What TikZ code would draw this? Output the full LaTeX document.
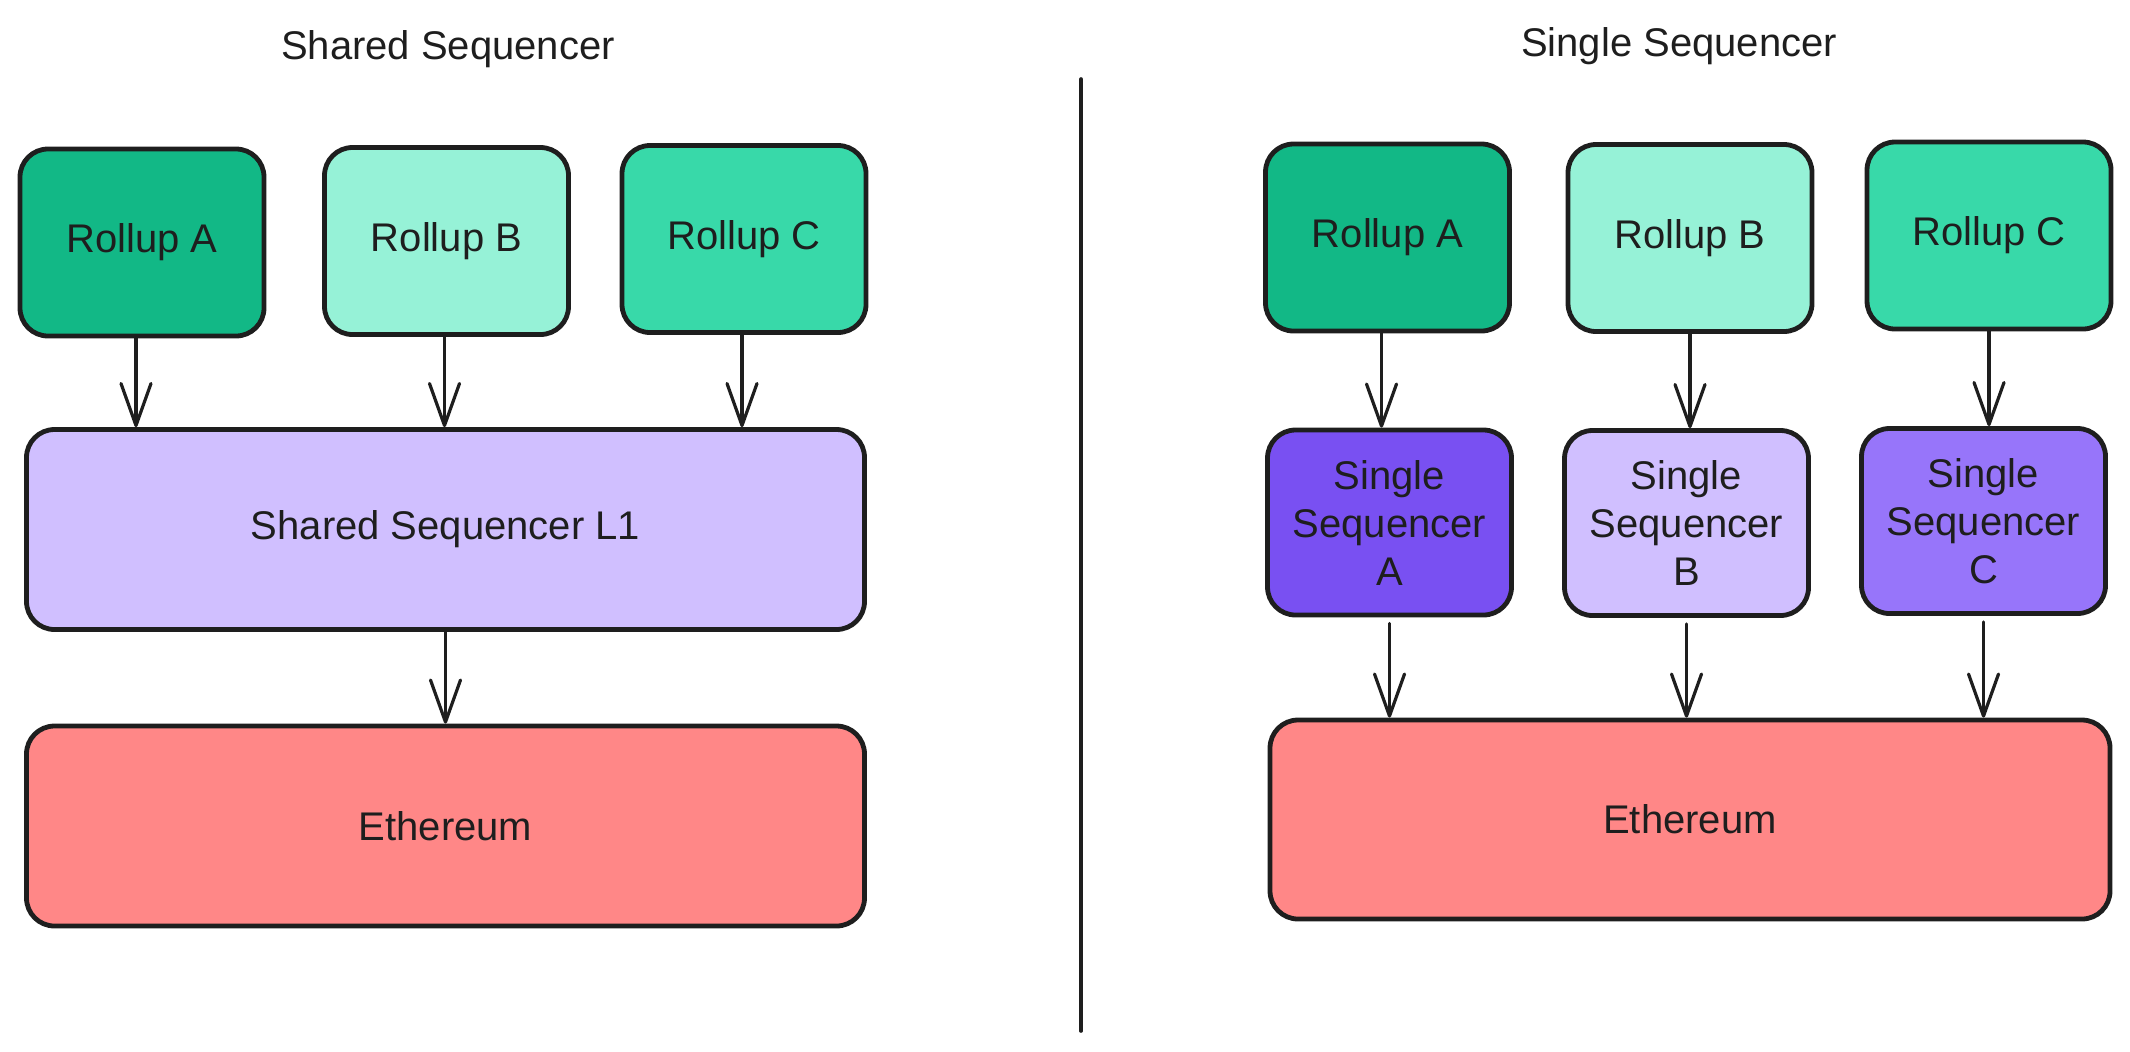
\documentclass[tikz,border=0pt]{standalone}
\usepackage{fontspec}
\setmainfont{Liberation Sans}
\usetikzlibrary{arrows.meta}
\definecolor{ink}{HTML}{1E1E1E}
\definecolor{tealA}{HTML}{12B886}
\definecolor{tealB}{HTML}{96F2D7}
\definecolor{tealC}{HTML}{38D9A9}
\definecolor{violetL}{HTML}{D0BFFF}
\definecolor{violetD}{HTML}{7950F2}
\definecolor{violetM}{HTML}{9775FA}
\definecolor{redL}{HTML}{FF8787}
\begin{document}
\begin{tikzpicture}[x=0.5pt,y=-0.5pt,
  box/.style={draw=ink, line width=2.4pt, rounded corners=14pt, inner sep=0pt,
              align=center, font=\fontsize{20}{24}\selectfont, text=ink},
  small/.style={box, minimum width=122pt, minimum height=93.5pt},
  wide/.style={box, minimum width=419pt, minimum height=100pt},
  arr/.style={draw=ink, line width=1.6pt, line cap=round,
              -{Straight Barb[length=21pt,width=15pt,round]}},
  title/.style={font=\fontsize{20}{24}\selectfont, text=ink},
  divider/.style={draw=ink, line width=1.8pt, line cap=round}]
\useasboundingbox (0,0) rectangle (2130,1051);

% titles
\node[title] (t1) at (448,49) {Shared Sequencer};
\node[title] (t2) at (1679,46) {Single Sequencer};

% divider
\coordinate (dt) at (1081,79);
\coordinate (db) at (1081,1031);
\draw[divider] (dt) -- (db);

% left side
\node[small, fill=tealA] (LA) at (142,242.5) {Rollup A};
\node[small, fill=tealB] (LB) at (446.5,241) {Rollup B};
\node[small, fill=tealC] (LC) at (744,239) {Rollup C};
\node[wide, fill=violetL] (L1) at (445.5,529.5) {Shared Sequencer L1};
\node[wide, fill=redL] (EL) at (445.5,826) {Ethereum};

\draw[arr] ([xshift=-3pt]LA.south) -- ([xshift=-3pt]LA.south |- L1.north);
\draw[arr] ([xshift=-1pt]LB.south) -- ([xshift=-1pt]LB.south |- L1.north);
\draw[arr] ([xshift=-1pt]LC.south) -- ([xshift=-1pt]LC.south |- L1.north);
\draw[arr] (L1.south) -- (L1.south |- EL.north);

% right side
\node[small, fill=tealA] (RA) at (1387.5,237.5) {Rollup A};
\node[small, fill=tealB] (RB) at (1690,238) {Rollup B};
\node[small, fill=tealC] (RC) at (1989,235.5) {Rollup C};
\node[small, minimum height=92.5pt, fill=violetD] (SA) at (1389.5,522.5) {Single\\Sequencer\\A};
\node[small, minimum height=92.5pt, fill=violetL] (SB) at (1686.5,523) {Single\\Sequencer\\B};
\node[small, minimum height=92.5pt, fill=violetM] (SC) at (1983.5,521) {Single\\Sequencer\\C};
\node[wide, minimum width=420pt, minimum height=99.5pt, fill=redL] (ER) at (1690,819.5) {Ethereum};

\draw[arr] ([xshift=-3pt]RA.south) -- ([xshift=-3pt]RA.south |- SA.north);
\draw[arr] (RB.south) -- (RB.south |- SB.north);
\draw[arr] (RC.south) -- (RC.south |- SC.north);
\draw[arr, shorten <=3pt] (SA.south) -- (SA.south |- ER.north);
\draw[arr, shorten <=3pt] (SB.south) -- (SB.south |- ER.north);
\draw[arr, shorten <=3pt] (SC.south) -- (SC.south |- ER.north);
\end{tikzpicture}
\end{document}
